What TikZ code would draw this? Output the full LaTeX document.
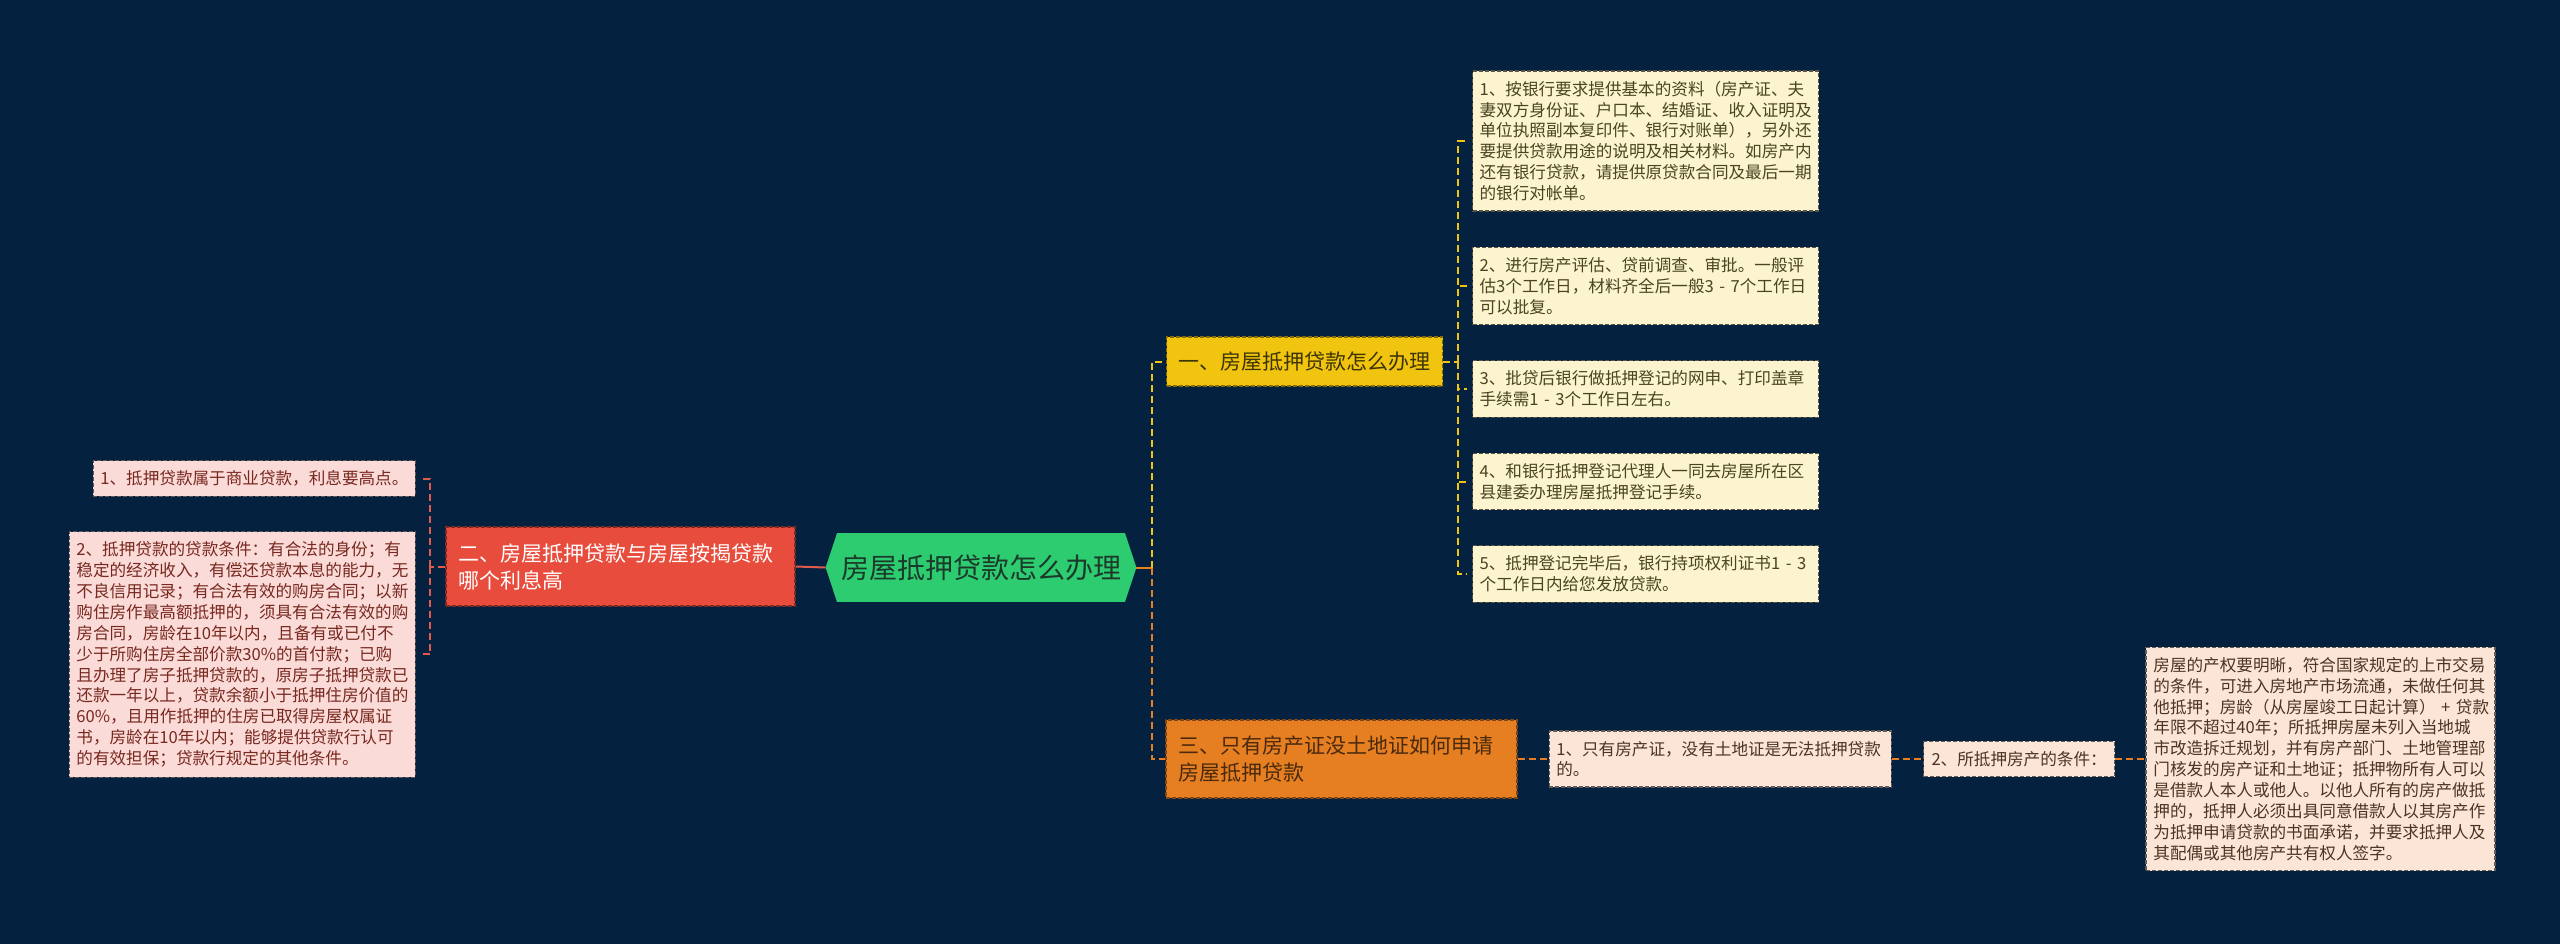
\documentclass[tikz,border=0pt]{standalone}
\usepackage{fontspec}
\setmainfont{Noto Sans CJK SC}
\usepackage{tikz}
\usetikzlibrary{positioning}
\definecolor{bgnavy}{HTML}{04213F}
\definecolor{rootgreen}{HTML}{2ECC71}
\definecolor{roottext}{HTML}{1B3A2A}
\definecolor{redmain}{HTML}{E74C3C}
\definecolor{redline}{HTML}{E05A4E}
\definecolor{pinkleaf}{HTML}{FADBD8}
\definecolor{pinktext}{HTML}{78281F}
\definecolor{yellowmain}{HTML}{F1C40F}
\definecolor{yellowtext}{HTML}{3D3505}
\definecolor{creamleaf}{HTML}{FCF3CF}
\definecolor{creamtext}{HTML}{4A4420}
\definecolor{orangemain}{HTML}{E67E22}
\definecolor{orangetext}{HTML}{4A2A0C}
\definecolor{peachleaf}{HTML}{FBE5D6}
\definecolor{peachtext}{HTML}{4D3322}

\begin{document}
\begin{tikzpicture}[x=0.5pt, y=-0.5pt,
    mainbox/.style={rectangle, draw, dash pattern=on 2pt off 1pt, line width=0.7pt,
      align=left, inner xsep=6pt, inner ysep=3pt,
      font=\fontsize{10.5}{13.5}\selectfont},
    leafbox/.style={rectangle, draw, dash pattern=on 2pt off 1pt, line width=0.6pt,
      align=left, inner xsep=3.5pt, inner ysep=5pt,
      font=\fontsize{8.3}{10.45}\selectfont},
    pinkbox/.style={leafbox, fill=pinkleaf, draw=pinkleaf!40!black, text=pinktext},
    creambox/.style={leafbox, fill=creamleaf, draw=creamleaf!35!black, text=creamtext,
      text width=166pt},
    peachbox/.style={leafbox, fill=peachleaf, draw=peachleaf!40!black, text=peachtext},
    redlink/.style={draw=redline, line width=1pt},
    yellowlink/.style={draw=yellowmain, line width=1pt, dash pattern=on 3.5pt off 2pt},
    orangelink/.style={draw=orangemain, line width=1pt, dash pattern=on 3.5pt off 2pt}]

  \fill[bgnavy] (0,0) rectangle (2560,944);
  \useasboundingbox (0,0) rectangle (2560,944);

  % centre
  \node[fill=rootgreen, text=roottext, minimum width=144pt, minimum height=34.5pt,
        inner sep=0pt, font=\fontsize{14}{16}\selectfont] (root) at (981,567.5) {房屋抵押贷款怎么办理};
  \fill[rootgreen] ([xshift=-0.3pt]root.north east) -- ([xshift=5.5pt]root.east)
    -- ([xshift=-0.3pt]root.south east) -- cycle;
  \fill[rootgreen] ([xshift=0.3pt]root.north west) -- ([xshift=-5.5pt]root.west)
    -- ([xshift=0.3pt]root.south west) -- cycle;
  \coordinate (rootW) at ([xshift=-5.5pt]root.west);
  \coordinate (rootE) at ([xshift=5.5pt]root.east);

  % branches
  \node[mainbox, fill=yellowmain, draw=yellowmain!55!black, text=yellowtext,
        minimum width=137.5pt, minimum height=24.5pt] (howto) at (1304.5,361.5) {一、房屋抵押贷款怎么办理};
  \node[mainbox, fill=redmain, draw=redmain!55!black, text=white, text width=162.5pt,
        minimum height=39.5pt] (rate) at (620.5,566.5) {二、房屋抵押贷款与房屋按揭贷款\\哪个利息高};
  \node[mainbox, fill=orangemain, draw=orangemain!55!black, text=orangetext, text width=163.5pt,
        minimum height=39pt] (noland) at (1341.5,759) {三、只有房产证没土地证如何申请\\房屋抵押贷款};

  % left leaves
  \node[pinkbox, anchor=east] (rateA) at (416,478.5) {1、抵押贷款属于商业贷款，利息要高点。};
  \node[pinkbox, text width=166pt, below=17pt of rateA.south east, anchor=north east] (rateB) {2、抵押贷款的贷款条件：有合法的身份；有\\
稳定的经济收入，有偿还贷款本息的能力，无\\
不良信用记录；有合法有效的购房合同；以新\\
购住房作最高额抵押的，须具有合法有效的购\\
房合同，房龄在10年以内，且备有或已付不\\
少于所购住房全部价款30\%的首付款；已购\\
且办理了房子抵押贷款的，原房子抵押贷款已\\
还款一年以上，贷款余额小于抵押住房价值的\\
60\%，且用作抵押的住房已取得房屋权属证\\
书，房龄在10年以内；能够提供贷款行认可\\
的有效担保；贷款行规定的其他条件。};

  % right leaves
  \node[creambox, anchor=west] (stepA) at (1472,141) {1、按银行要求提供基本的资料（房产证、夫\\
妻双方身份证、户口本、结婚证、收入证明及\\
单位执照副本复印件、银行对账单），另外还\\
要提供贷款用途的说明及相关材料。如房产内\\
还有银行贷款，请提供原贷款合同及最后一期\\
的银行对帐单。};
  \node[creambox, below=17.5pt of stepA] (stepB) {2、进行房产评估、贷前调查、审批。一般评\\
估3个工作日，材料齐全后一般3~-~7个工作日\\
可以批复。};
  \node[creambox, below=17.5pt of stepB] (stepC) {3、批贷后银行做抵押登记的网申、打印盖章\\
手续需1~-~3个工作日左右。};
  \node[creambox, below=17.5pt of stepC] (stepD) {4、和银行抵押登记代理人一同去房屋所在区\\
县建委办理房屋抵押登记手续。};
  \node[creambox, below=17.5pt of stepD] (stepE) {5、抵押登记完毕后，银行持项权利证书1~-~3\\
个工作日内给您发放贷款。};

  % bottom chain
  \node[peachbox, text width=164pt, right=15.5pt of noland] (nolandA) {1、只有房产证，没有土地证是无法抵押贷款\\的。};
  \node[peachbox, inner xsep=4pt, right=15.5pt of nolandA] (nolandB) {2、所抵押房产的条件：};
  \node[peachbox, text width=167pt, inner xsep=3.75pt, right=15pt of nolandB] (nolandC) {房屋的产权要明晰，符合国家规定的上市交易\\
的条件，可进入房地产市场流通，未做任何其\\
他抵押；房龄（从房屋竣工日起计算）~+~贷款\\
年限不超过40年；所抵押房屋未列入当地城\\
市改造拆迁规划，并有房产部门、土地管理部\\
门核发的房产证和土地证；抵押物所有人可以\\
是借款人本人或他人。以他人所有的房产做抵\\
押的，抵押人必须出具同意借款人以其房产作\\
为抵押申请贷款的书面承诺，并要求抵押人及\\
其配偶或其他房产共有权人签字。};

  % links
  \draw[redlink] (rootW) -- (rate.east);
  \coordinate (rtrunk) at (1152,567.5);
  \draw[draw=orangemain, line width=1pt] (rootE) -- (rtrunk);
  \draw[yellowlink] (rtrunk) |- (howto.west);
  \draw[orangelink] (rtrunk) |- (noland.west);

  \coordinate (ltrunk) at ([xshift=-7.5pt]rate.west);
  \draw[redlink, dash pattern=on 3.5pt off 2pt] (rate.west) -- (ltrunk);
  \foreach \leaf in {rateA, rateB}
    \draw[redlink, dash pattern=on 3.5pt off 2pt] (ltrunk) |- ([xshift=2pt]\leaf.east);

  \coordinate (ytrunk) at ([xshift=7.5pt]howto.east);
  \draw[yellowlink] (howto.east) -- (ytrunk);
  \foreach \leaf in {stepA, stepB, stepC, stepD, stepE}
    \draw[yellowlink] (ytrunk) |- ([xshift=-2.5pt]\leaf.west);

  \draw[orangelink] (noland) -- (nolandA);
  \draw[orangelink] (nolandA) -- (nolandB);
  \draw[orangelink] (nolandB) -- (nolandC);
\end{tikzpicture}
\end{document}
